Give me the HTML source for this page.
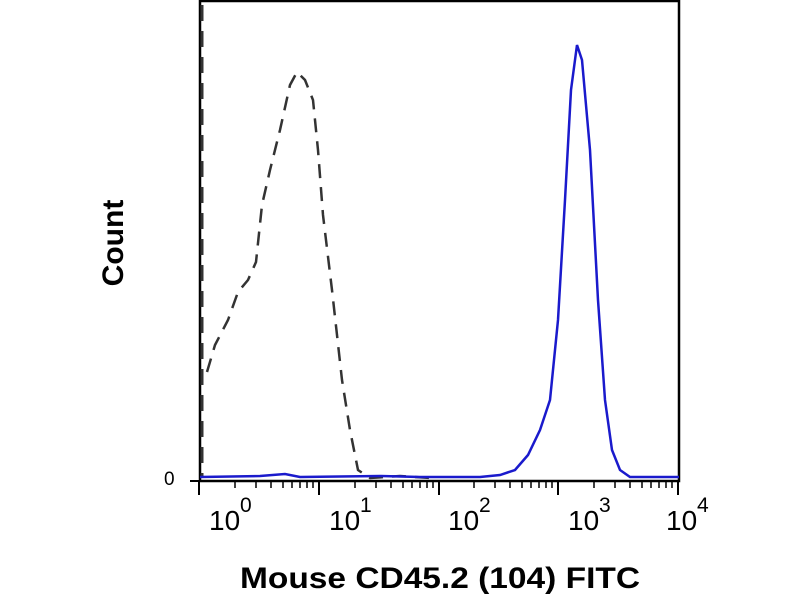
<!DOCTYPE html>
<html><head><style>body{margin:0;background:#fff}svg{display:block}</style></head><body>
<svg width="800" height="600" xmlns="http://www.w3.org/2000/svg" font-family="Liberation Sans, sans-serif">
<rect x="200" y="1" width="479" height="480" fill="none" stroke="#000" stroke-width="2.5"/>
<line x1="190" y1="481" x2="680" y2="481" stroke="#000" stroke-width="2"/>
<g stroke="#000" stroke-width="2">
<line x1="199" y1="481" x2="199" y2="495"/><line x1="319" y1="481" x2="319" y2="495"/><line x1="439" y1="481" x2="439" y2="495"/><line x1="558" y1="481" x2="558" y2="495"/><line x1="678" y1="481" x2="678" y2="495"/>
</g>
<g stroke="#000" stroke-width="1.5">
<path id="m" d="M235,481v7M256,481v7M271,481v7M283,481v7M292,481v7M300,481v7M307,481v7M313,481v7"/>
<use href="#m" x="120"/><use href="#m" x="239"/><use href="#m" x="359"/>
</g>
<g font-size="28" fill="#000">
<text x="209" y="530">10</text><text x="240" y="512" font-size="21">0</text>
<text x="329" y="530">10</text><text x="360" y="512" font-size="21">1</text>
<text x="448" y="530">10</text><text x="479" y="512" font-size="21">2</text>
<text x="568" y="530">10</text><text x="599" y="512" font-size="21">3</text>
<text x="666" y="530">10</text><text x="697" y="512" font-size="21">4</text>
<text x="164" y="485" font-size="19">0</text>
</g>
<text x="440" y="588" font-size="30" font-weight="bold" text-anchor="middle" textLength="400" lengthAdjust="spacingAndGlyphs">Mouse CD45.2 (104) FITC</text>
<text transform="translate(123,243) rotate(-90)" font-size="30" font-weight="bold" text-anchor="middle">Count</text>
<path d="M202,5V478" stroke="#333" stroke-width="3" stroke-dasharray="16,10" fill="none"/>
<path d="M207,372L215,345L228,320L238,292L248,280L256,262L262,205L270,170L280,130L290,85L297,72L305,80L313,100L318,150L323,215L332,290L342,380L350,430L358,470L370,478L400,476L430,478" stroke="#333" stroke-width="2.5" stroke-dasharray="14,9" fill="none"/>
<path d="M200,477L260,476L285,474L300,477L380,476L420,477L480,477L500,475L515,470L528,455L540,430L550,400L558,320L565,200L571,90L577,45L582,60L590,150L598,300L605,400L612,450L620,470L630,477L679,477" stroke="#1a1acc" stroke-width="2.5" fill="none"/>
</svg>
</body></html>
